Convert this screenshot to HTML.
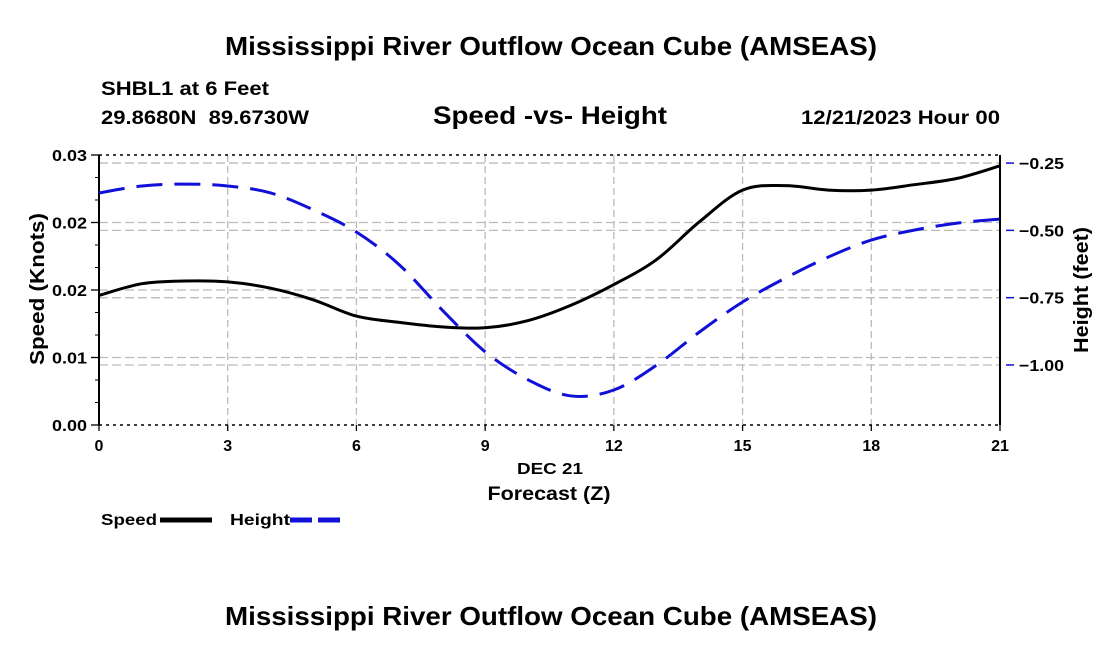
<!DOCTYPE html>
<html><head><meta charset="utf-8">
<style>
body{margin:0;background:#fff;width:1100px;height:650px;overflow:hidden;font-family:"Liberation Sans",Arial,sans-serif;}
svg text{font-family:"Liberation Sans",Arial,sans-serif;font-weight:bold;fill:#000;}
</style></head>
<body>
<svg id="chart" width="1100" height="650" xmlns="http://www.w3.org/2000/svg">
<text x="225" y="55" font-size="26" textLength="652" lengthAdjust="spacingAndGlyphs">Mississippi River Outflow Ocean Cube (AMSEAS)</text>
<text x="101" y="95" font-size="19" textLength="168" lengthAdjust="spacingAndGlyphs">SHBL1 at 6 Feet</text>
<text x="101" y="124" font-size="19" textLength="208" lengthAdjust="spacingAndGlyphs" xml:space="preserve">29.8680N  89.6730W</text>
<text x="433" y="124" font-size="25" textLength="234" lengthAdjust="spacingAndGlyphs">Speed -vs- Height</text>
<text x="801" y="124" font-size="19" textLength="199" lengthAdjust="spacingAndGlyphs">12/21/2023 Hour 00</text>
<g id="grid"></g>
<g id="axes"></g>
<g id="series"></g>
<text transform="translate(44,289) rotate(-90)" font-size="20" text-anchor="middle" textLength="152" lengthAdjust="spacingAndGlyphs">Speed (Knots)</text>
<text transform="translate(1088,290) rotate(-90)" font-size="20" text-anchor="middle" textLength="126" lengthAdjust="spacingAndGlyphs">Height (feet)</text>
<text x="550" y="474" font-size="16" text-anchor="middle" textLength="66" lengthAdjust="spacingAndGlyphs">DEC 21</text>
<text x="549" y="500" font-size="19" text-anchor="middle" textLength="123" lengthAdjust="spacingAndGlyphs">Forecast (Z)</text>
<g>
<text x="101" y="525" font-size="16" textLength="56" lengthAdjust="spacingAndGlyphs">Speed</text>
<line x1="160" y1="520" x2="212" y2="520" stroke="#000" stroke-width="5"/>
<text x="230" y="525" font-size="16" textLength="60" lengthAdjust="spacingAndGlyphs">Height</text>
<line x1="290" y1="520" x2="342" y2="520" stroke="#1010d8" stroke-width="5" stroke-dasharray="22,6"/>
</g>
<text x="225" y="625" font-size="26" textLength="652" lengthAdjust="spacingAndGlyphs">Mississippi River Outflow Ocean Cube (AMSEAS)</text>
</svg>
<script>
const hours = [0,1,2,3,4,5,6,7,8,9,10,11,12,13,14,15,16,17,18,19,20,21];
const speedValues = [0.0144,0.0157,0.0160,0.0159,0.0152,0.0139,0.0121,0.0114,0.0109,0.0108,0.0116,0.0133,0.0156,0.0184,0.0226,0.0261,0.0266,0.0261,0.0261,0.0267,0.0274,0.0288];
const heightValues = [-0.361,-0.335,-0.328,-0.335,-0.361,-0.424,-0.506,-0.628,-0.796,-0.951,-1.055,-1.115,-1.093,-1.000,-0.877,-0.766,-0.677,-0.599,-0.536,-0.499,-0.473,-0.458];
const xTicks = [0,3,6,9,12,15,18,21];
const leftTicks = [0,0.0075,0.015,0.0225,0.03];
const leftTickLabels = ["0.00","0.01","0.02","0.02","0.03"];
const rightTicks = [-0.25,-0.5,-0.75,-1.0];
const rightTickLabels = ["\u22120.25","\u22120.50","\u22120.75","\u22121.00"];

const X0=99,X1=1000,Y0=425,Y1=155;
const xS=h=>X0+(h-0)/21*(X1-X0);
const yL=v=>Y0-(v/0.03)*(Y0-Y1);
const HMIN=-1.223,HMAX=-0.22;
const yR=v=>Y0-(v-HMIN)/(HMAX-HMIN)*(Y0-Y1);
const NS="http://www.w3.org/2000/svg";
function mk(tag,attrs,parent,txt){const e=document.createElementNS(NS,tag);for(const k in attrs)e.setAttribute(k,attrs[k]);if(txt!==undefined)e.textContent=txt;parent.appendChild(e);return e;}
const grid=document.getElementById('grid'),axes=document.getElementById('axes'),series=document.getElementById('series');

xTicks.forEach((t,i)=>{
  const x=xS(t);
  if(i>0&&i<xTicks.length-1){const l=mk('line',{x1:x,y1:Y1,x2:x,y2:Y0,stroke:'#bbb','stroke-width':1.3,'stroke-dasharray':'7,4'},grid);
  
  }
  const tk=mk('line',{x1:x,y1:Y0,x2:x,y2:Y0+6,stroke:'#000','stroke-width':1.3},axes);
  
  
  const tx=mk('text',{x:x,y:Y0+26,'font-size':16,'text-anchor':'middle'},axes,String(t));
  
  
});
leftTicks.forEach((t,i)=>{
  const y=yL(t);
  if(i>0&&i<leftTicks.length-1){const l=mk('line',{x1:X0,y1:y,x2:X1,y2:y,stroke:'#bbb','stroke-width':1.3,'stroke-dasharray':'9,4'},grid);
  
  }
  const tk=mk('line',{x1:X0-8,y1:y,x2:X0,y2:y,stroke:'#000','stroke-width':1.3},axes);
  
  
  const tx=mk('text',{x:X0-12,y:y+6,'font-size':16,'text-anchor':'end',textLength:35,lengthAdjust:'spacingAndGlyphs'},axes,leftTickLabels[i]);
  
  
  if(i<leftTicks.length-1){for(let k=1;k<3;k++){const ym=y-(k/3)*(yL(0)-yL(0.0075));
    const m=mk('line',{x1:X0-4,y1:ym,x2:X0,y2:ym,stroke:'#000','stroke-width':1},axes);
    
    }}
});
rightTicks.forEach((t,i)=>{
  const y=yR(t);
  const l=mk('line',{x1:X0,y1:y,x2:X1,y2:y,stroke:'#bbb','stroke-width':1.3,'stroke-dasharray':'9,4'},grid);
  
  
  const tk=mk('line',{x1:X1+6,y1:y,x2:X1+14,y2:y,stroke:'#1010d8','stroke-width':1.5},axes);
  
  
  const tx=mk('text',{x:X1+19,y:y+6,'font-size':16,'text-anchor':'start',textLength:45,lengthAdjust:'spacingAndGlyphs'},axes,rightTickLabels[i]);
  
  
});
[Y1,Y0].forEach(y=>{const b=mk('line',{x1:X0,y1:y,x2:X1,y2:y,stroke:'#000','stroke-width':1.5,'stroke-dasharray':'3,4'},axes);

});
[X0,X1].forEach(x=>{const b=mk('line',{x1:x,y1:Y1,x2:x,y2:Y0,stroke:'#000','stroke-width':2},axes);

});

function smooth(pts){let d=`M${pts[0][0]},${pts[0][1]}`;
  for(let i=0;i<pts.length-1;i++){const p0=pts[Math.max(0,i-1)],p1=pts[i],p2=pts[i+1],p3=pts[Math.min(pts.length-1,i+2)];
    d+=` C${p1[0]+(p2[0]-p0[0])/6},${p1[1]+(p2[1]-p0[1])/6} ${p2[0]-(p3[0]-p1[0])/6},${p2[1]-(p3[1]-p1[1])/6} ${p2[0]},${p2[1]}`;}
  return d;}
const sp=mk('path',{d:smooth(hours.map((h,i)=>[xS(h),yL(speedValues[i])])),fill:'none',stroke:'#000','stroke-width':3},series);


const hp=mk('path',{d:smooth(hours.map((h,i)=>[xS(h),yR(heightValues[i])])),fill:'none',stroke:'#1010d8','stroke-width':3,'stroke-dasharray':'26,12'},series);


</script>
</body></html>
